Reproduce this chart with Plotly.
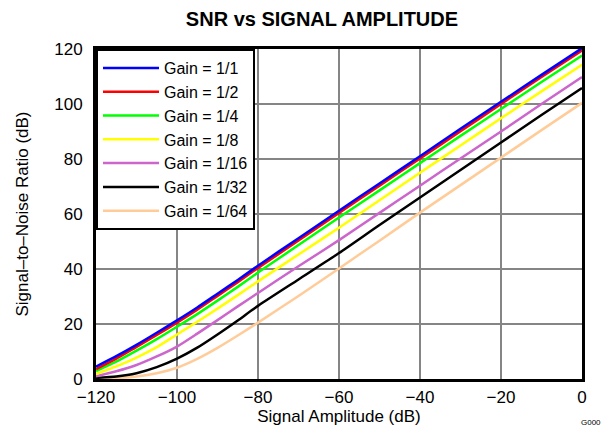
import plotly.graph_objects as go

amplitude = [-120, -115, -110, -105, -100, -95, -90, -85, -80, -70, -60, -50, -40, -30, -20, -10, 0]

snr_gain_1_1 = [4.5, 8.3, 12.4, 16.8, 21.3, 26.0, 31.0, 36.0, 41.2, 51.2, 61.2, 71.1, 81.0, 91.0, 100.8, 110.6, 120.3]
snr_gain_1_2 = [3.6, 7.4, 11.7, 16.0, 20.5, 25.2, 30.2, 35.2, 40.4, 50.4, 60.4, 70.3, 80.2, 90.1, 100.0, 109.8, 119.5]
snr_gain_1_4 = [2.9, 6.3, 10.3, 14.5, 19.0, 23.6, 28.5, 33.5, 38.7, 48.7, 58.7, 68.6, 78.5, 88.4, 98.2, 108.0, 117.6]
snr_gain_1_8 = [1.8, 4.6, 7.8, 11.6, 16.2, 20.8, 25.6, 30.5, 35.5, 45.3, 55.0, 65.0, 75.0, 84.9, 94.8, 104.6, 114.3]
snr_gain_1_16 = [1.0, 2.8, 5.1, 8.2, 11.8, 16.5, 21.4, 26.4, 31.3, 41.0, 50.5, 60.4, 70.3, 80.2, 90.0, 100.0, 109.8]
snr_gain_1_32 = [0.4, 0.9, 2.1, 4.3, 7.4, 11.4, 16.2, 21.3, 26.6, 36.2, 45.8, 56.0, 66.0, 76.0, 86.0, 96.0, 105.8]
snr_gain_1_64 = [0.1, 0.3, 0.9, 2.1, 4.1, 7.3, 11.3, 15.8, 20.5, 30.2, 40.2, 50.3, 60.5, 70.5, 80.5, 90.5, 100.4]

series_names = ["Gain = 1/1", "Gain = 1/2", "Gain = 1/4", "Gain = 1/8",
                "Gain = 1/16", "Gain = 1/32", "Gain = 1/64"]
series_values = [snr_gain_1_1, snr_gain_1_2, snr_gain_1_4, snr_gain_1_8,
                 snr_gain_1_16, snr_gain_1_32, snr_gain_1_64]
series_colors = ["#0000FF", "#FF0000", "#00FF00", "#FFFF00",
                 "#CC66CC", "#000000", "#FFCC99"]

x_ticks = [-120, -100, -80, -60, -40, -20, 0]
x_tick_labels = ["\u2212120", "\u2212100", "\u221280", "\u221260", "\u221240", "\u221220", "0"]
y_ticks = [0, 20, 40, 60, 80, 100, 120]

FONT = "Liberation Sans, Arial, sans-serif"

fig = go.Figure()
# draw from last to first so that Gain = 1/1 sits on top, but keep legend order
for i in reversed(range(len(series_names))):
    fig.add_trace(go.Scatter(
        x=amplitude, y=series_values[i], mode="lines",
        name=series_names[i], legendrank=i + 1,
        line=dict(color=series_colors[i], width=2.5, shape="spline", smoothing=0.6),
    ))

fig.update_layout(
    width=605, height=424,
    margin=dict(l=88, r=31, t=41, b=53),
    paper_bgcolor="white", plot_bgcolor="white",
    font=dict(family=FONT, size=17, color="black"),
    title=dict(text="<b>SNR vs SIGNAL AMPLITUDE</b>", x=0.465, xanchor="center",
               xref="paper", y=1 - 11 / 424, yanchor="middle",
               font=dict(size=20, family=FONT)),
    showlegend=True,
    legend=dict(x=0, y=1, xanchor="left", yanchor="top",
                bgcolor="white", bordercolor="black", borderwidth=2,
                font=dict(size=16, family=FONT), tracegroupgap=0,
                itemwidth=56),
)
fig.update_xaxes(
    range=[-120, 0], tickvals=x_ticks, ticktext=x_tick_labels,
    showgrid=True, gridcolor="#858585", gridwidth=1.5,
    showline=True, linecolor="black", linewidth=3, mirror=True,
    ticks="", zeroline=False, ticklabelstandoff=1, automargin=False,
    title=dict(text="Signal Amplitude (dB)", standoff=2, font=dict(size=17)),
)
fig.update_yaxes(
    range=[0, 120], tickvals=y_ticks,
    showgrid=True, gridcolor="#858585", gridwidth=1.5,
    showline=True, linecolor="black", linewidth=3, mirror=True,
    ticks="", zeroline=False, ticklabelstandoff=7, automargin=False,
    title=dict(text="Signal\u2013to\u2013Noise Ratio (dB)", standoff=22, font=dict(size=17)),
)
fig.add_annotation(text="G000", xref="paper", yref="paper", x=1.043, y=-0.133,
                   xanchor="right", yanchor="middle", showarrow=False,
                   font=dict(size=8, family=FONT))

fig.write_html("out.html")
